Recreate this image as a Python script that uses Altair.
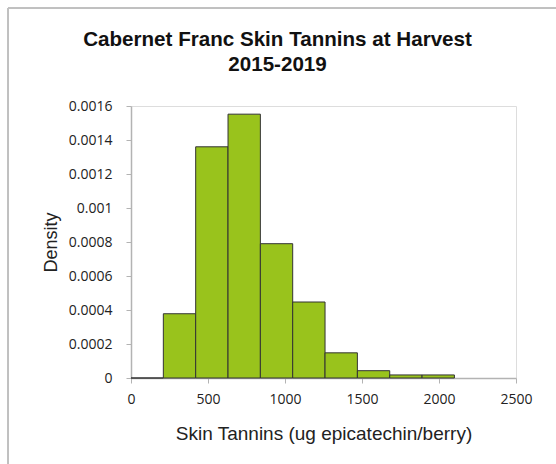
import altair as alt
import pandas as pd

bin_start = [0, 210, 420, 630, 840, 1050, 1260, 1470, 1680, 1890]
bin_end = [210, 420, 630, 840, 1050, 1260, 1470, 1680, 1890, 2100]
density = [0.0, 0.000378, 0.001360, 0.001552, 0.000790, 0.000447, 0.000148, 0.000043, 0.000018, 0.000018]

df = pd.DataFrame({"start": bin_start, "end": bin_end, "density": density})

font = "Liberation Sans"
tickfont = "Open Sans"
grey = "#b3b3b3"

bars = alt.Chart(df).mark_bar(
    color="#99c31c", stroke="#333333", strokeWidth=1
).encode(
    x=alt.X("start:Q",
            scale=alt.Scale(domain=[0, 2500], nice=False, zero=True),
            axis=alt.Axis(values=[0, 500, 1000, 1500, 2000, 2500], format="d",
                          title="Skin Tannins (ug epicatechin/berry)",
                          grid=False, domainColor=grey, domainWidth=1.5,
                          tickColor=grey, tickSize=5, labelPadding=9, labelFlush=False,
                          labelFontSize=14, labelColor="#222222", labelFont=tickfont,
                          titleFont=font, titleFontSize=19, titleFontWeight="normal",
                          titleColor="#222222", titlePadding=18)),
    x2="end:Q",
    y=alt.Y("density:Q",
            scale=alt.Scale(domain=[0, 0.0016], nice=False),
            axis=alt.Axis(values=[0, 0.0002, 0.0004, 0.0006, 0.0008, 0.001, 0.0012, 0.0014, 0.0016],
                          format="~g", title="Density",
                          grid=False, domainColor=grey, domainWidth=1.5,
                          tickColor=grey, tickSize=5, labelPadding=14,
                          labelFontSize=14, labelColor="#222222", labelFont=tickfont,
                          titleFont=font, titleFontSize=18, titleFontWeight="normal",
                          titleColor="#222222", titlePadding=8)),
    y2=alt.datum(0),
)

border_left = alt.Chart(df).mark_rule(color="#c0c0c0", strokeWidth=1).encode(
    x=alt.value(-123), y=alt.value(-98), y2=alt.value(400))
border_top = alt.Chart(df).mark_rule(color="#c0c0c0", strokeWidth=1).encode(
    x=alt.value(-123), x2=alt.value(450), y=alt.value(-98))

chart = alt.layer(bars, border_left, border_top).properties(
    width=385, height=272,
    title=alt.TitleParams(text=["Cabernet Franc Skin Tannins at Harvest", "2015-2019"],
                          font=font, fontSize=20.6, fontWeight="bold", color="#111111",
                          anchor="middle", frame="group", dx=-46, offset=-68, lineHeight=25),
    autosize=alt.AutoSizeParams(type="none"),
    padding={"left": 131, "top": 106, "right": 40, "bottom": 86},
).configure_view(stroke=grey, strokeWidth=2).configure(background="white")

chart.save("out.html", embed_options={"renderer": "svg", "actions": False})
